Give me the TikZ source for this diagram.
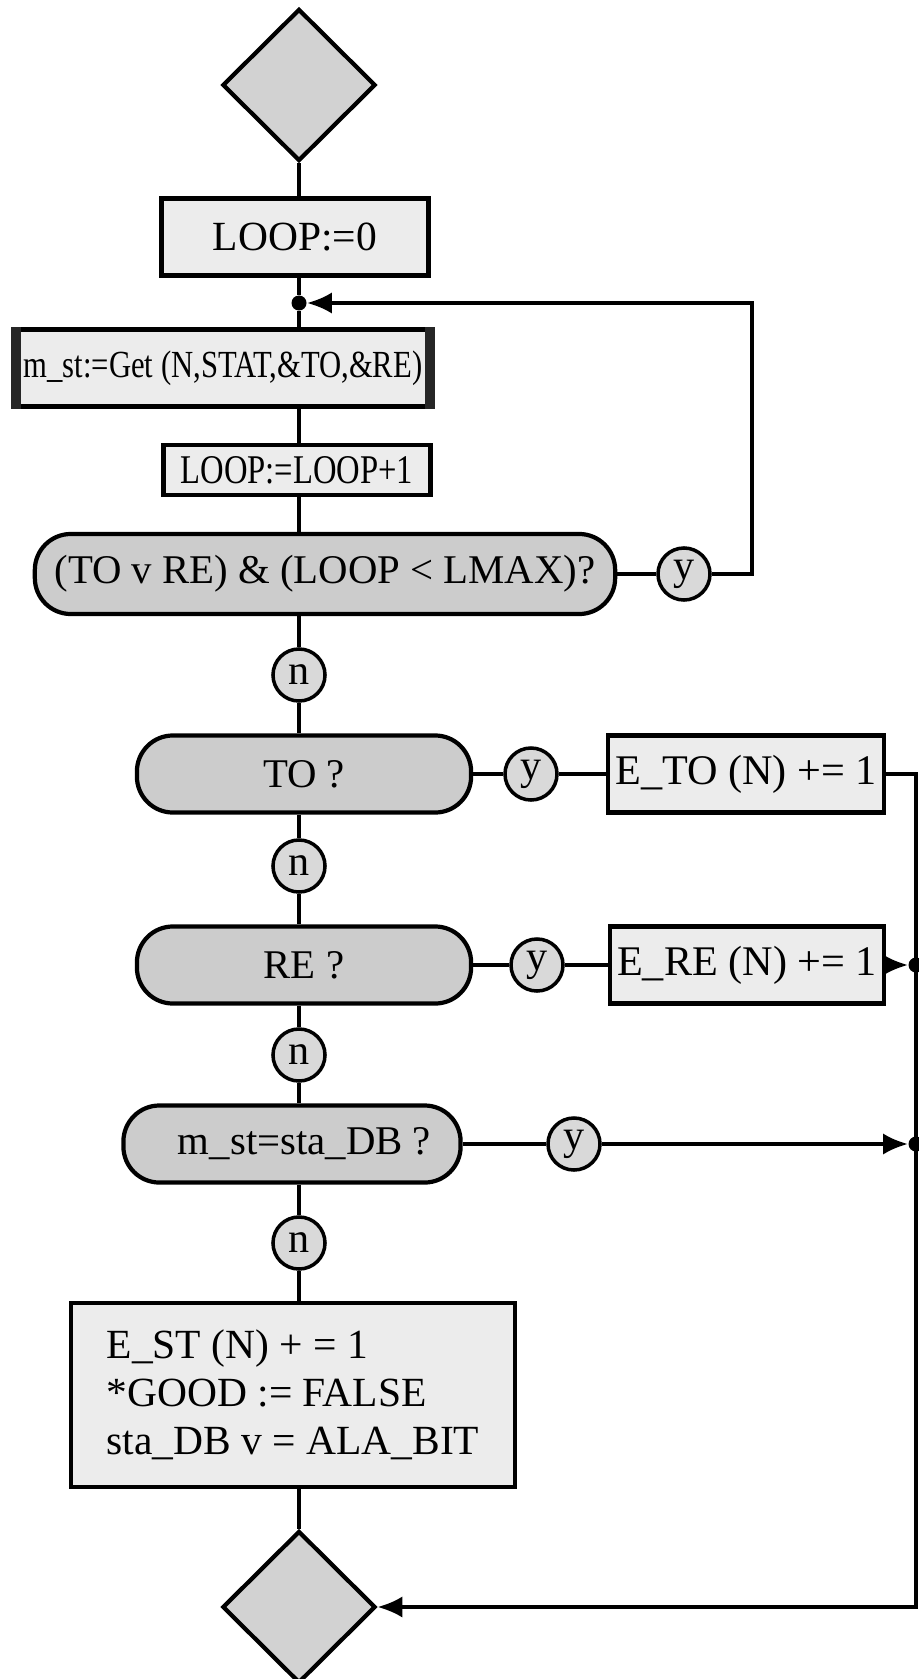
\documentclass[tikz,border=0pt]{standalone}
\usepackage{fontspec}
\setmainfont{Liberation Serif}
\newfontfamily\narrowserif[FakeStretch=0.8]{Liberation Serif}
\usetikzlibrary{shapes.geometric,arrows.meta}

\tikzset{
  flow/.style={line width=0.9pt},
  arr/.style={flow,-{Latex[length=7pt,width=6pt]}},
  procbox/.style={draw,line width=1.2pt,fill=gray!15,inner sep=2pt},
  testbox/.style={draw,line width=1.2pt,fill=gray!40,rounded corners=0.36cm,inner sep=2pt,
    minimum height=0.77cm,font=\fontsize{11.6}{13}\selectfont},
  answer/.style={draw,circle,line width=1pt,fill=gray!30,minimum size=0.52cm,inner sep=0pt,
    font=\fontsize{12}{12}\selectfont},
  term/.style={draw,diamond,line width=1.2pt,fill=gray!35,minimum width=1.53cm,
    minimum height=1.52cm,inner sep=0pt},
  joint/.style={circle,fill=black,inner sep=0pt,minimum size=0.15cm},
}

\begin{document}
\begin{tikzpicture}[x=0.01cm,y=-0.01cm]
    \useasboundingbox (0,0) rectangle (918,1679);

    % Start and end
    \node[term] (start) at (299,85) {};
    \node[term] (stop) at (299,1607) {};

    % Read loop
    \node[procbox,minimum width=2.67cm,minimum height=0.77cm,font=\fontsize{11.8}{13}\selectfont]
        (init) at (295,237) {LOOP:=0};
    \node[joint] (join) at (299,303) {};
    \node[procbox,minimum width=4.2cm,minimum height=0.77cm,font=\narrowserif\fontsize{10.9}{12}\selectfont]
        (get) at (223,368) {m\_st:=Get (N,STAT,\&TO,\&RE)};
    \fill[black!85] (get.north west) rectangle ([xshift=0.1cm]get.south west);
    \fill[black!85] (get.north east) rectangle ([xshift=-0.1cm]get.south east);
    \node[procbox,minimum width=2.67cm,minimum height=0.5cm,inner sep=1pt,font=\narrowserif\fontsize{11.6}{12}\selectfont]
        (inc) at (297,470) {LOOP:=LOOP+1};
    \node[testbox,minimum width=5.8cm,minimum height=0.8cm] (loopq) at (325,574)
        {(TO v RE) \& (LOOP < LMAX)?};
    \node[answer] (y1) at (684,574) {y};
    \node[answer] (n1) at (299,675) {n};

    % Error checks
    \node[testbox,minimum width=3.34cm] (toq) at (304,774) {TO ?};
    \node[answer] (y2) at (531,774) {y};
    \node[procbox,minimum width=2.68cm,minimum height=0.77cm,font=\fontsize{12}{14}\selectfont]
        (eto) at (746,774) {E\_TO (N) += 1};
    \node[answer] (n2) at (299,866) {n};

    \node[testbox,minimum width=3.34cm] (req) at (304,965) {RE ?};
    \node[answer] (y3) at (537,965) {y};
    \node[procbox,minimum width=2.68cm,minimum height=0.77cm,font=\fontsize{12}{14}\selectfont]
        (ere) at (747,965) {E\_RE (N) += 1};
    \node[answer] (n3) at (299,1055) {n};

    \node[testbox,minimum width=3.37cm] (dbq) at (292,1144) {\hspace{0.25cm}m\_st=sta\_DB ?};
    \node[answer] (y4) at (574,1144) {y};
    \node[answer] (n4) at (299,1243) {n};

    \node[procbox,minimum width=4.44cm,minimum height=1.84cm,align=left,font=\fontsize{11.8}{13.6}\selectfont]
        (est) at (293,1395) {E\_ST (N) + = 1\\{*}GOOD := FALSE\\sta\_DB v = ALA\_BIT};

    % Main line
    \draw[flow] (start.south) -- (init.north -| start.south);
    \draw[flow] (init.south -| join) -- (join) -- (get.north -| join);
    \draw[flow] (get.south -| join) -- (inc.north -| join);
    \draw[flow] (inc.south -| join) -- (loopq.north -| join);
    \draw[flow] (loopq.south -| join) -- (n1) -- (toq.north -| join);
    \draw[flow] (toq.south -| join) -- (n2) -- (req.north -| join);
    \draw[flow] (req.south -| join) -- (n3) -- (dbq.north -| join);
    \draw[flow] (dbq.south -| join) -- (n4) -- (est.north -| join);
    \draw[flow] (est.south -| join) -- (stop.north);

    % Repeat branch
    \coordinate (back) at (752,303);
    \draw[flow] (loopq) -- (y1);
    \draw[arr] (y1) -| (back) -- (join);

    % Yes branches to the end
    \coordinate (rtop) at (916,774);
    \coordinate (rbot) at (916,1607);
    \node[joint] (jre) at (916,965) {};
    \node[joint] (jdb) at (916,1144) {};
    \draw[flow] (toq) -- (y2) -- (eto);
    \draw[flow] (req) -- (y3) -- (ere);
    \draw[flow] (dbq) -- (y4);
    \draw[arr] (eto) -- (rtop) -- (rbot) -- (stop);
    \draw[arr] (ere) -- (jre);
    \draw[arr] (y4) -- (jdb);
\end{tikzpicture}
\end{document}
